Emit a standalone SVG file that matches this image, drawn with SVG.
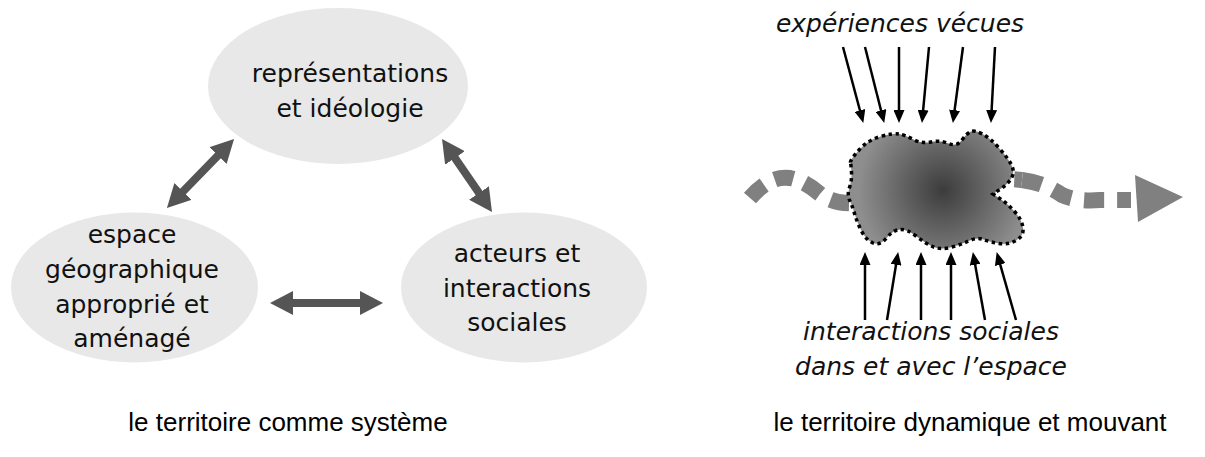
<svg xmlns="http://www.w3.org/2000/svg" width="1205" height="457" viewBox="0 0 1205 457">
  <style>
    .node { fill: #e8e8e8; stroke: none; }
    .ntext { font-family: "DejaVu Sans", Verdana, sans-serif; font-size: 25px; fill: #111; text-anchor: middle; }
    .itext { font-family: "DejaVu Sans", Verdana, sans-serif; font-size: 25px; font-style: italic; fill: #111; text-anchor: middle; }
    .title { font-family: "Liberation Sans", Arial, sans-serif; font-size: 26px; fill: #000; text-anchor: middle; }
    .thick { stroke: #555; stroke-width: 8; fill: none; marker-start: url(#bigHead); marker-end: url(#bigHead); }
    .thin { stroke: #000; stroke-width: 2.5; fill: none; marker-end: url(#smallHead); }
    .flow { stroke: #808080; stroke-width: 16; fill: none; stroke-dasharray: 19 12; }
  </style>
  <defs>
    <marker id="bigHead" viewBox="0 0 23 24" markerUnits="userSpaceOnUse" markerWidth="23" markerHeight="24" refX="8" refY="12" orient="auto-start-reverse">
      <path d="M0,0 L23,12 L0,24 Z" fill="#555"/>
    </marker>
    <marker id="smallHead" viewBox="0 0 13 11" markerUnits="userSpaceOnUse" markerWidth="13" markerHeight="11" refX="6" refY="5.5" orient="auto">
      <path d="M0,0 L13,5.5 L0,11 Z" fill="#000"/>
    </marker>
    <radialGradient id="blobGrad" gradientUnits="userSpaceOnUse" cx="943" cy="190" r="85">
      <stop offset="0" stop-color="#3c3c3c"/>
      <stop offset="1" stop-color="#8e8e8e"/>
    </radialGradient>
  </defs>

  <!-- left panel: le territoire comme système -->
  <g id="node-representations">
    <ellipse class="node" cx="338" cy="86" rx="130" ry="78"/>
    <text class="ntext" x="350" y="82">représentations</text>
    <text class="ntext" x="350" y="117">et idéologie</text>
  </g>
  <g id="node-espace">
    <ellipse class="node" cx="134.5" cy="287.5" rx="123.5" ry="75"/>
    <text class="ntext" x="132" y="243">espace</text>
    <text class="ntext" x="132" y="278">géographique</text>
    <text class="ntext" x="132" y="313">approprié et</text>
    <text class="ntext" x="132" y="347">aménagé</text>
  </g>
  <g id="node-acteurs">
    <ellipse class="node" cx="524" cy="287.5" rx="123" ry="75"/>
    <text class="ntext" x="517" y="262">acteurs et</text>
    <text class="ntext" x="517" y="297">interactions</text>
    <text class="ntext" x="517" y="331">sociales</text>
  </g>
  <g id="connectors-left">
    <line class="thick" x1="177.4" y1="197.2" x2="223.6" y2="149.8"/>
    <line class="thick" x1="450.5" y1="151.4" x2="483.5" y2="199.6"/>
    <line class="thick" x1="285" y1="303" x2="368" y2="303"/>
  </g>
  <text class="title" x="288" y="431">le territoire comme système</text>

  <!-- right panel: le territoire dynamique et mouvant -->
  <g id="flow">
    <path class="flow" d="M 750,198 Q 770,175 790,178 Q 805,181 820,194 Q 835,205 858,203 C 920,195 980,175 1022,180"/>
    <path class="flow" style="stroke-dasharray: 20 13" d="M 1022,180 Q 1045,183 1062,195 Q 1077,202 1100,200 L 1131,200"/>
    <polygon points="1135,175 1183,197 1138,222" fill="#808080"/>
  </g>
  <g id="territoire">
    <path fill="url(#blobGrad)" stroke="#000" stroke-width="3.5" stroke-dasharray="3.5 3.5" d="M 850.5,162.5 Q 850,160 859,150 Q 868,140 880.5,136.5 Q 893,133 899,134 Q 905,135 913.5,139.5 Q 922,144 931,142 Q 940,140 948.5,143.5 Q 957,147 962,140 Q 967,133 971,131.5 Q 975,130 982.5,134 Q 990,138 999,148 Q 1008,158 1011.5,165 Q 1015,172 1011.5,178 Q 1008,184 1000.5,189 L 993,194 L 1000.5,199 Q 1008,204 1015,212 Q 1022,220 1023,228 Q 1024,236 1016,240.5 Q 1008,245 999,243.5 Q 990,242 983.5,239.5 Q 977,237 968.5,241 Q 960,245 950,247.5 Q 940,250 932.5,246.5 Q 925,243 916,236 Q 907,229 900,229.5 Q 893,230 886.5,238 Q 880,246 873,243 Q 866,240 861.5,231 Q 857,222 854.5,213.5 Q 852,205 849.5,200 Q 847,195 849.5,187.5 Q 852,180 851.5,172.5 Q 851,165 850.5,162.5 Z"/>
  </g>
  <g id="label-experiences">
    <text class="itext" x="900" y="32">expériences vécues</text>
  </g>
  <g id="label-interactions">
    <text class="itext" x="931" y="340">interactions sociales</text>
    <text class="itext" x="931" y="375">dans et avec l’espace</text>
  </g>
  <g id="connectors-right">
    <line class="thin" x1="843" y1="47" x2="861.5" y2="116.2"/>
    <line class="thin" x1="865" y1="47" x2="882.5" y2="116.2"/>
    <line class="thin" x1="899" y1="47" x2="899" y2="116"/>
    <line class="thin" x1="929" y1="47" x2="922.6" y2="116"/>
    <line class="thin" x1="963" y1="47" x2="953.8" y2="116.1"/>
    <line class="thin" x1="995" y1="47" x2="991.3" y2="116"/>
    <line class="thin" x1="865" y1="320" x2="865" y2="259"/>
    <line class="thin" x1="887" y1="320" x2="897" y2="258.9"/>
    <line class="thin" x1="921" y1="320" x2="921" y2="259"/>
    <line class="thin" x1="951" y1="320" x2="951" y2="259"/>
    <line class="thin" x1="985" y1="320" x2="974.1" y2="258.9"/>
    <line class="thin" x1="1016" y1="320" x2="998.6" y2="258.8"/>
  </g>
  <text class="title" x="970" y="431">le territoire dynamique et mouvant</text>
</svg>
